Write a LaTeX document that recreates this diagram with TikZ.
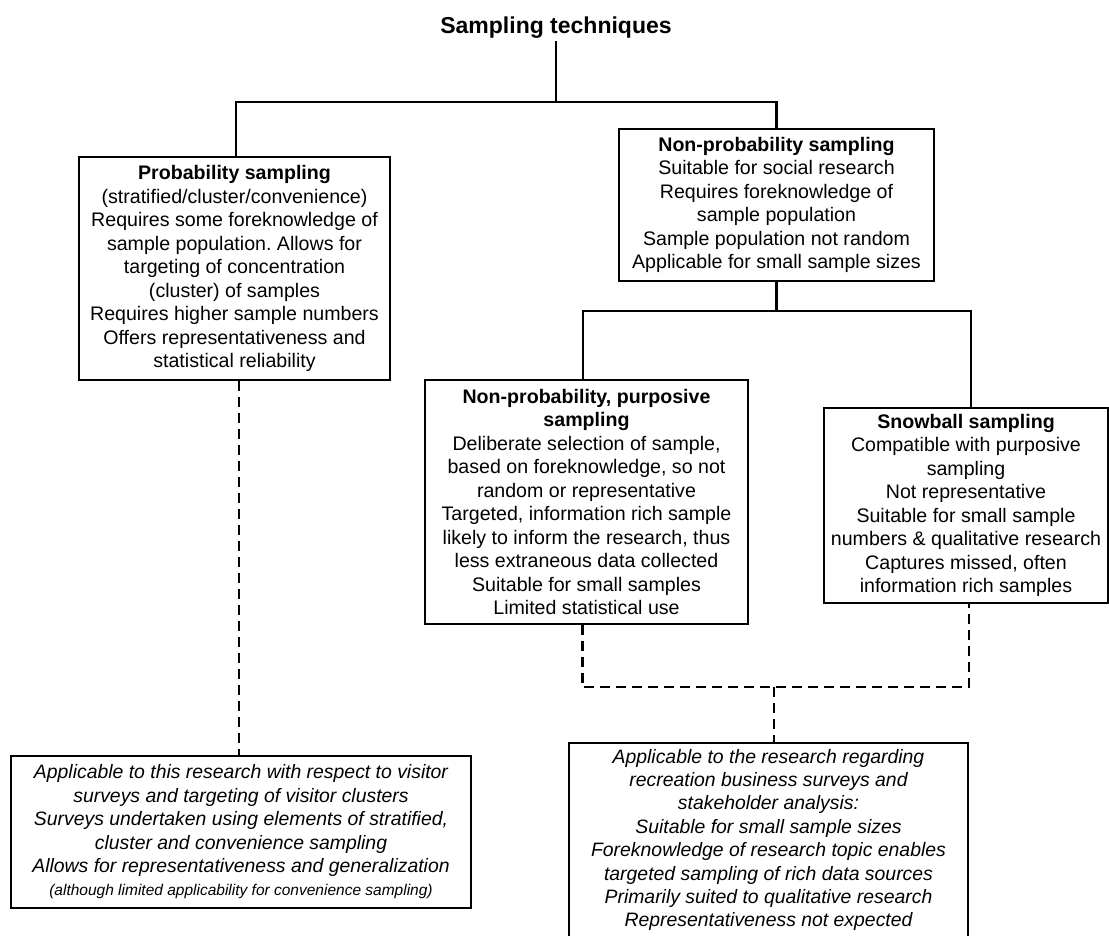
\documentclass[tikz,border=0pt]{standalone}
\usepackage{fontspec}
\setmainfont{Liberation Sans}
\frenchspacing
\newcommand\bodyfont{\fontsize{19.6}{23.5}\selectfont}
\newcommand\itfont{\fontsize{19.4}{23.4}\selectfont\itshape}
\newcommand\smallit{\fontsize{15.5}{23.4}\selectfont\itshape}
\begin{document}
\begin{tikzpicture}[x=1pt,y=-1pt,
  box/.style={draw, line width=1.4pt, inner sep=0pt, align=center, font=\bodyfont},
  itbox/.style={draw, line width=1.4pt, inner sep=0pt, align=center, font=\itfont},
  boxline/.style={line width=1.4pt},
  conn/.style={line width=2.2pt},
  dconn/.style={line width=2.2pt, dash pattern=on 10pt off 6pt}]
\useasboundingbox (0,0) rectangle (1109,935);
\fill[white] (0,0) rectangle (1109,935);

\node[font=\fontsize{23}{27}\selectfont\bfseries, anchor=base, inner sep=0pt] (title) at (556,33) {Sampling techniques};

\node[box, minimum width=311pt, minimum height=223pt] (prob) at (234.5,268.5)
 {\textbf{Probability sampling}\\(stratified/cluster/convenience)\\Requires some foreknowledge of\\sample population. Allows for\\targeting of concentration\\(cluster) of samples\\Requires higher sample numbers\\Offers representativeness and\\statistical reliability};

\node[box, minimum width=315pt, minimum height=152pt] (np) at (776.5,205)
 {\textbf{Non-probability sampling}\\Suitable for social research\\Requires foreknowledge of\\sample population\\Sample population not random\\Applicable for small sample sizes};

\node[box, minimum width=323pt, minimum height=244pt] (purp) at (586.5,502)
 {\textbf{Non-probability, purposive}\\\textbf{sampling}\\Deliberate selection of sample,\\based on foreknowledge, so not\\random or representative\\Targeted, information rich sample\\likely to inform the research, thus\\less extraneous data collected\\Suitable for small samples\\Limited statistical use};

\node[box, minimum width=284pt, minimum height=195pt] (snow) at (966,505.5)
 {\textbf{Snowball sampling}\\Compatible with purposive\\sampling\\Not representative\\Suitable for small sample\\numbers \& qualitative research\\Captures missed, often\\information rich samples};

\node[itbox, minimum width=460pt, minimum height=152pt] (bl) at (241,832)
 {Applicable to this research with respect to visitor\\surveys and targeting of visitor clusters\\Surveys undertaken using elements of stratified,\\cluster and convenience sampling\\Allows for representativeness and generalization\\{\smallit (although limited applicability for convenience sampling)}};

\coordinate (brtl) at (569,743);
\coordinate (brtr) at (968,743);
\coordinate (brbl) at (569,936);
\coordinate (brbr) at (968,936);
\draw[boxline] (brbl) -- (brtl) -- (brtr) -- (brbr);
\node[draw=none, inner sep=0pt, align=center, font=\itfont] (br) at (768.5,840)
 {Applicable to the research regarding\\recreation business surveys and\\stakeholder analysis:\\Suitable for small sample sizes\\Foreknowledge of research topic enables\\targeted sampling of rich data sources\\Primarily suited to qualitative research\\Representativeness not expected};

% solid tree connectors
\coordinate (j1) at (556,102);
\coordinate (j2) at (776.5,311);
\draw[conn, shorten <=3pt] (title.south) -- (j1);
\draw[conn] ([xshift=1.5pt]prob.north) |- (j1) -| (np.north);
\draw[conn] (np.south) -- (j2);
\draw[conn] ([xshift=-3.5pt]purp.north) |- (j2) -| ([xshift=5pt]snow.north);

% dashed connectors
\coordinate (j3) at (774,687);
\draw[dconn] ([xshift=4.5pt]prob.south) -- ([xshift=4.5pt]prob.south |- bl.north);
\draw[dconn] ([xshift=-4pt]purp.south) |- (j3) -| ([xshift=3pt]snow.south);
\draw[dconn] (j3) -- (j3 |- brtl);
\end{tikzpicture}
\end{document}
